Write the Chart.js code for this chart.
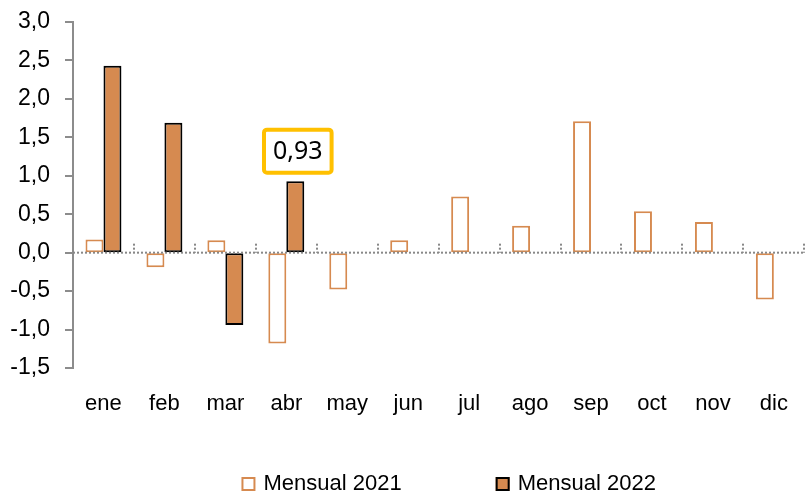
<!DOCTYPE html>
<html>
<head>
<meta charset="utf-8">
<script src="https://cdn.jsdelivr.net/npm/chart.js@4"></script>
<style>
  html, body { margin: 0; padding: 0; background: #fff; }
  #wrap { width: 811px; height: 494px; }
</style>
</head>
<body>
<div id="wrap"><canvas id="myChart" width="811" height="494"></canvas></div>
<script>
  const labels = ['ene', 'feb', 'mar', 'abr', 'may', 'jun', 'jul', 'ago', 'sep', 'oct', 'nov', 'dic'];
  const mensual2021 = [0.17, -0.19, 0.16, -1.18, -0.48, 0.16, 0.73, 0.35, 1.71, 0.54, 0.40, -0.61];
  const mensual2022 = [2.43, 1.69, -0.94, 0.93, null, null, null, null, null, null, null, null];
  const seriesNames = ['Mensual 2021', 'Mensual 2022'];
  const highlightIndex = 3;

  const orange = '#D68A50';
  const axisGray = '#8c8c8c';
  const fontMain = '"Liberation Sans", Arial, sans-serif';

  // y tick marks, dotted zero line, category tick marks, callout box and legend
  const extras = {
    id: 'extras',
    afterDatasetsDraw(chart) {
      const ctx = chart.ctx;
      const y = chart.scales.y;
      const area = chart.chartArea;
      const y0 = y.getPixelForValue(0);

      ctx.save();
      ctx.strokeStyle = axisGray;
      ctx.lineWidth = 2;
      y.ticks.forEach(t => {
        const py = Math.round(y.getPixelForValue(t.value));
        ctx.beginPath();
        ctx.moveTo(area.left - 8, py);
        ctx.lineTo(area.left, py);
        ctx.stroke();
      });
      ctx.restore();

      ctx.save();
      ctx.strokeStyle = '#888888';
      ctx.lineWidth = 2;
      ctx.setLineDash([2, 2]);
      ctx.beginPath();
      ctx.moveTo(area.left, y0);
      ctx.lineTo(area.right, y0);
      ctx.stroke();
      const step = (area.right - area.left) / labels.length;
      for (let i = 1; i <= labels.length; i++) {
        const px = Math.round(area.left + i * step);
        ctx.beginPath();
        ctx.moveTo(px, y0 - 9);
        ctx.lineTo(px, y0);
        ctx.stroke();
      }
      ctx.restore();

      // callout for the last 2022 value
      const bar = chart.getDatasetMeta(1).data[highlightIndex];
      const txt = mensual2022[highlightIndex].toFixed(2).replace('.', ',');
      ctx.save();
      ctx.font = '25px "Noto Sans", sans-serif';
      const w = ctx.measureText(txt).width + 18;
      const h = 43;
      const bx = bar.x + 2.5 - w / 2;
      const by = bar.y - 8.5 - h;
      ctx.fillStyle = '#fff';
      ctx.strokeStyle = '#FFC000';
      ctx.lineWidth = 4;
      ctx.beginPath();
      ctx.roundRect(bx, by, w, h, 3);
      ctx.fill();
      ctx.stroke();
      ctx.fillStyle = '#000';
      ctx.textAlign = 'center';
      ctx.textBaseline = 'middle';
      ctx.fillText(txt, bx + w / 2, by + h / 2 + 1);
      ctx.restore();

      // legend
      ctx.save();
      ctx.font = '22px ' + fontMain;
      ctx.textBaseline = 'middle';
      const box = 14, gapText = 8, gapItems = 94;
      const widths = seriesNames.map(n => box + gapText + ctx.measureText(n).width);
      const total = widths[0] + widths[1] + gapItems;
      let lx = (area.left + area.right) / 2 + 10 - total / 2;
      const ly = 484;
      chart.data.datasets.forEach((ds, i) => {
        ctx.fillStyle = ds.backgroundColor;
        ctx.fillRect(lx, ly - box / 2, box, box);
        ctx.strokeStyle = ds.borderColor;
        ctx.lineWidth = 2;
        ctx.strokeRect(lx + 1, ly - box / 2 + 1, box - 2, box - 2);
        ctx.fillStyle = '#000';
        ctx.fillText(seriesNames[i], lx + box + gapText, ly);
        lx += widths[i] + gapItems;
      });
      ctx.restore();
    }
  };

  const data = {
    labels: labels,
    datasets: [{
      label: seriesNames[0],
      data: mensual2021,
      backgroundColor: '#ffffff',
      borderColor: orange,
      borderWidth: 2,
      borderSkipped: false
    }, {
      label: seriesNames[1],
      data: mensual2022,
      backgroundColor: orange,
      borderColor: '#000000',
      borderWidth: 2,
      borderSkipped: false
    }]
  };

  const config = {
    type: 'bar',
    data: data,
    options: {
      responsive: false,
      animation: false,
      categoryPercentage: 0.59,
      barPercentage: 1,
      layout: { padding: { top: 22, right: 2, left: 0, bottom: 0 } },
      plugins: {
        legend: { display: false },
        tooltip: { enabled: false }
      },
      scales: {
        x: {
          afterFit(s) { s.height = 126; },
          grid: { display: false, drawTicks: false },
          border: { display: false },
          ticks: {
            color: '#000',
            padding: 23,
            maxRotation: 0,
            font: { family: fontMain, size: 22 }
          }
        },
        y: {
          min: -1.5,
          max: 3,
          afterFit(s) { s.width = 73; },
          grid: { drawOnChartArea: false, drawTicks: true, tickLength: 22, tickColor: 'rgba(0,0,0,0)' },
          border: { display: true, color: axisGray, width: 2 },
          ticks: {
            stepSize: 0.5,
            color: '#000',
            padding: 1,
            font: { family: fontMain, size: 23 },
            callback: v => v.toFixed(1).replace('.', ',')
          }
        }
      }
    },
    plugins: [extras]
  };

  const myChart = new Chart(document.getElementById('myChart'), config);
</script>
</body>
</html>
